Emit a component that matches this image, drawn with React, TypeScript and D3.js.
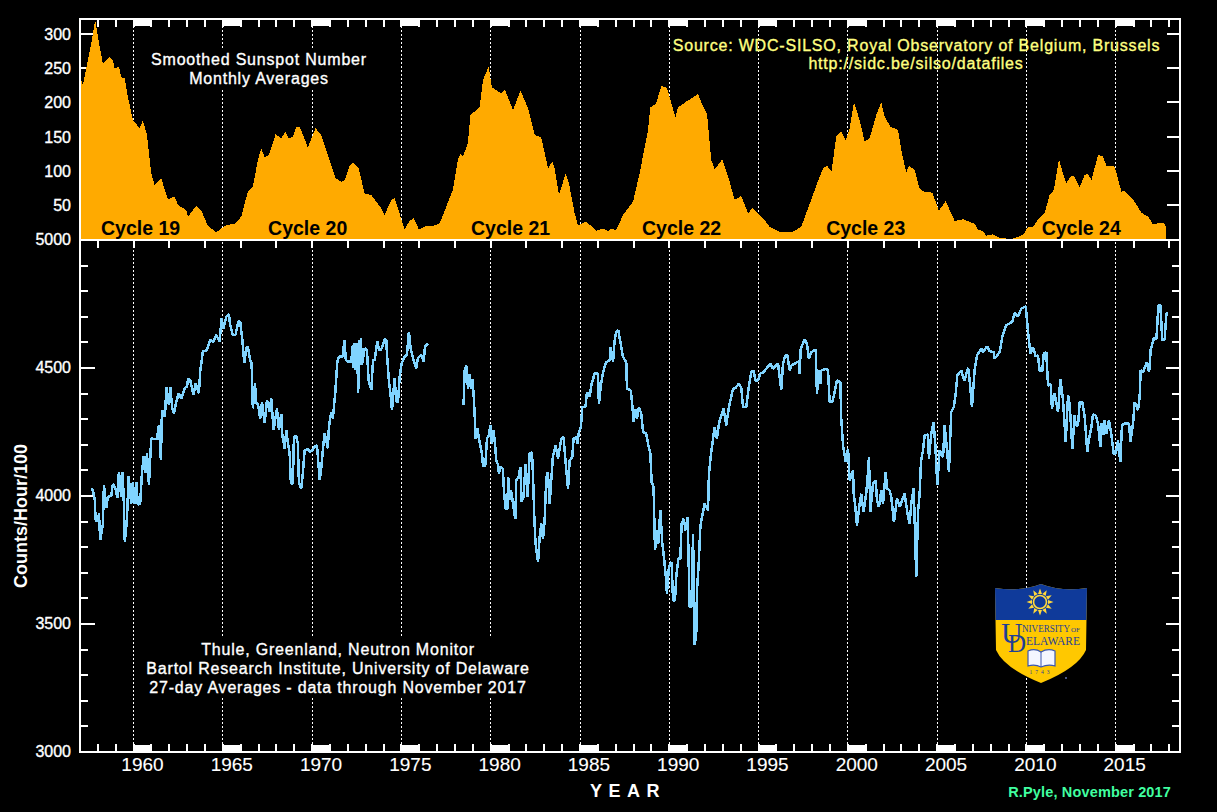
import React from "react";
import * as d3 from "d3";

const sunYears = [1957,1957.16,1957.35,1957.63,1957.85,1958.1,1958.28,1958.66,1958.84,1958.94,1959.18,1959.31,1959.5,1959.68,1959.96,1960.34,1960.52,1960.75,1960.99,1961.18,1961.55,1961.92,1962.3,1962.48,1962.95,1963.04,1963.51,1963.79,1964.16,1964.63,1965.19,1965.66,1966.03,1966.4,1966.68,1966.96,1967.15,1967.34,1967.58,1967.95,1968.27,1968.51,1968.7,1968.92,1969.11,1969.3,1969.76,1970.19,1970.51,1970.98,1971.31,1971.63,1971.82,1972.1,1972.29,1972.6,1972.94,1973.31,1973.87,1974.06,1974.43,1974.62,1975.18,1975.46,1975.68,1975.98,1976.39,1976.77,1977.14,1977.51,1977.88,1978.16,1978.3,1978.44,1978.72,1978.86,1979.38,1979.57,1979.88,1980.07,1980.59,1980.78,1981.25,1981.67,1982.09,1982.46,1982.83,1983.21,1983.45,1983.58,1983.82,1984.2,1984.38,1984.7,1984.89,1985.35,1985.91,1986.29,1986.57,1986.75,1987.03,1987.41,1987.97,1988.34,1988.81,1988.94,1989.27,1989.55,1989.87,1990.34,1990.49,1990.95,1991.61,1991.89,1992.11,1992.35,1992.54,1992.97,1993.38,1993.66,1994.03,1994.41,1994.65,1995.34,1995.62,1996.18,1996.93,1997.39,1997.77,1998.42,1998.61,1998.83,1999.08,1999.35,1999.63,1999.88,2000.1,2000.34,2000.66,2000.94,2001.22,2001.59,2001.87,2002.06,2002.38,2002.81,2002.99,2003.27,2003.42,2003.74,2004.02,2004.3,2004.73,2005.1,2005.48,2005.98,2006.45,2007.1,2007.29,2007.57,2007.75,2008.13,2008.5,2009.15,2009.81,2010.09,2010.37,2010.74,2011.02,2011.3,2011.54,2011.82,2012.05,2012.23,2012.52,2012.7,2012.98,2013.26,2013.45,2013.64,2014.01,2014.29,2014.48,2014.94,2015.32,2015.5,2016.06,2016.44,2016.81,2017.09,2017.37,2017.65,2017.84];
const sunValues = [238.5,225.4,249.8,286.3,320.5,281.5,257,265.9,262,249.8,252.2,236.6,235.1,208.3,174.1,162,173.2,152.2,96.1,79,88.8,58,62,49.8,42.4,32.7,48.3,41.5,19.5,9.8,20.5,22,32.7,69.3,76.6,115.6,132.7,119.5,122.9,153.2,147.3,157,147.3,149.8,163.4,164.4,134.1,162,152.2,115.6,88.8,83.9,86.3,106.8,111.7,103.4,66.8,64.4,44.9,35.1,57.1,59.5,14.1,26.8,30.2,14.1,19,19,22.9,47.3,71.7,115.6,125.4,120.5,140,181.5,192.7,232.7,252.2,222,213.2,219,188.8,217.1,191.2,152.2,148.8,103.4,113.2,103.4,64.4,96.1,81.5,37.6,19.5,25.4,12.2,15.6,11.7,15.1,13.2,35.1,54.6,96.1,159.5,192.7,198.5,223.9,221.5,178,192.7,201,212.2,193.7,183.9,115.6,102,116.6,83.9,57.1,62.9,37.6,44.9,27.8,18,10.7,10.7,18,44.9,91.2,103.4,107.3,98.5,149.8,157,144.9,162,200,174.1,142.4,147.3,181.5,200,179,164.4,159.5,130.2,97.6,107.3,101,73.2,69.3,67.8,41.5,55.6,26.3,28.8,22,13.2,11.7,4.9,6.8,1.5,0,5.9,18,18,31.7,37.6,64.4,71.7,116.6,96.1,81.5,92.7,91.2,75.6,93.7,95.1,86.3,122.9,120.5,107.3,105.9,69.3,70.7,54.6,38.5,32.7,21.5,22.9,23.9,18];

const thuleYearsEarly = [1957.63,1957.69,1957.76,1957.83,1957.87,1958,1958.06,1958.13,1958.28,1958.34,1958.47,1958.56,1958.75,1958.84,1958.99,1959.09,1959.18,1959.31,1959.37,1959.44,1959.51,1959.63,1959.72,1959.87,1959.96,1960.06,1960.15,1960.24,1960.37,1960.47,1960.56,1960.67,1960.75,1960.86,1960.99,1961.12,1961.31,1961.42,1961.53,1961.59,1961.74,1961.79,1961.83,1961.98,1962.05,1962.17,1962.26,1962.35,1962.52,1962.67,1962.86,1962.99,1963.06,1963.17,1963.36,1963.47,1963.66,1963.73,1963.88,1964.11,1964.29,1964.48,1964.63,1964.82,1964.93,1965.04,1965.19,1965.34,1965.41,1965.56,1965.71,1965.86,1965.97,1966.09,1966.2,1966.31,1966.4,1966.53,1966.61,1966.68,1966.8,1966.87,1966.96,1967.09,1967.19,1967.34,1967.47,1967.62,1967.71,1967.84,1968.03,1968.14,1968.27,1968.33,1968.46,1968.55,1968.63,1968.74,1968.81,1968.92,1968.98,1969.11,1969.2,1969.26,1969.39,1969.48,1969.58,1969.76,1969.9,1969.99,1970.14,1970.27,1970.32,1970.42,1970.51,1970.6,1970.7,1970.88,1970.94,1971.07,1971.16,1971.3,1971.41,1971.5,1971.72,1971.8,1971.89,1972,1972.19,1972.28,1972.32,1972.38,1972.43,1972.49,1972.55,1972.58,1972.62,1972.68,1972.73,1972.79,1972.94,1973.07,1973.16,1973.31,1973.41,1973.5,1973.65,1973.74,1973.87,1974.06,1974.15,1974.2,1974.3,1974.39,1974.47,1974.62,1974.71,1974.81,1974.9,1975.01,1975.18,1975.31,1975.42,1975.51,1975.65,1975.83,1975.92,1976.11,1976.24,1976.32,1976.49];
const thuleValuesEarly = [4023,4027,4010,3984,3906,3900,3932,3828,3887,4043,3952,3997,4000,4047,4030,3991,4095,3997,4095,4010,3822,3909,4076,3971,4056,3971,4056,3965,3971,4089,4154,4089,4167,4043,4225,4223,4223,4277,4141,4336,4310,4349,4424,4355,4427,4342,4323,4355,4401,4381,4421,4427,4460,4453,4395,4440,4401,4486,4564,4570,4609,4603,4629,4603,4694,4655,4700,4711,4668,4629,4629,4681,4681,4609,4521,4577,4583,4531,4518,4342,4440,4362,4362,4303,4368,4284,4375,4329,4381,4258,4342,4258,4320,4238,4186,4258,4212,4167,4049,4049,4232,4234,4206,4049,4030,4089,4180,4182,4173,4177,4193,4199,4154,4062,4108,4180,4245,4186,4271,4329,4303,4407,4525,4544,4544,4609,4531,4525,4525,4590,4499,4596,4492,4596,4492,4401,4609,4512,4616,4512,4577,4570,4453,4414,4531,4531,4603,4570,4573,4612,4609,4544,4450,4395,4336,4460,4368,4368,4466,4518,4544,4551,4642,4577,4538,4499,4538,4551,4525,4583,4596];

const thuleYearsLate = [1978.48,1978.54,1978.63,1978.73,1978.82,1978.89,1978.97,1979.04,1979.1,1979.15,1979.25,1979.34,1979.42,1979.51,1979.57,1979.7,1979.79,1979.9,1979.98,1980.07,1980.16,1980.24,1980.31,1980.42,1980.46,1980.55,1980.68,1980.74,1980.83,1980.93,1980.98,1981.06,1981.13,1981.21,1981.3,1981.38,1981.43,1981.56,1981.66,1981.73,1981.84,1981.95,1982.07,1982.18,1982.31,1982.37,1982.44,1982.51,1982.65,1982.74,1982.83,1982.93,1983.02,1983.11,1983.2,1983.3,1983.39,1983.48,1983.63,1983.77,1983.95,1984.08,1984.19,1984.33,1984.42,1984.57,1984.64,1984.79,1984.85,1984.94,1985.05,1985.13,1985.31,1985.39,1985.54,1985.63,1985.82,1986.01,1986.06,1986.16,1986.29,1986.47,1986.66,1986.72,1986.85,1986.94,1987.03,1987.14,1987.26,1987.41,1987.59,1987.63,1987.84,1987.93,1988,1988.12,1988.19,1988.3,1988.43,1988.53,1988.71,1988.81,1988.94,1989.01,1989.12,1989.2,1989.31,1989.38,1989.5,1989.61,1989.68,1989.8,1989.87,1989.98,1990.13,1990.21,1990.32,1990.39,1990.51,1990.62,1990.69,1990.8,1990.92,1991.03,1991.14,1991.25,1991.33,1991.42,1991.51,1991.55,1991.64,1991.74,1991.85,1991.98,1992.17,1992.22,1992.35,1992.45,1992.54,1992.67,1992.78,1992.91,1993.04,1993.19,1993.34,1993.47,1993.57,1993.72,1993.9,1994.03,1994.13,1994.31,1994.44,1994.59,1994.72,1994.82,1994.97,1995.1,1995.28,1995.43,1995.66,1995.81,1996.09,1996.18,1996.27,1996.37,1996.5,1996.61,1996.74,1996.83,1997.28,1997.3,1997.36,1997.58,1997.71,1997.82,1997.95,1998.2,1998.27,1998.38,1998.46,1998.51,1998.79,1998.89,1998.98,1999.13,1999.26,1999.39,1999.58,1999.63,1999.73,1999.88,2000.01,2000.1,2000.29,2000.32,2000.42,2000.51,2000.66,2000.75,2000.88,2001.03,2001.13,2001.18,2001.26,2001.41,2001.56,2001.63,2001.74,2001.87,2001.97,2002.12,2002.19,2002.34,2002.43,2002.58,2002.75,2002.9,2003.18,2003.37,2003.46,2003.55,2003.69,2003.83,2003.93,2004.02,2004.1,2004.21,2004.3,2004.49,2004.54,2004.67,2004.8,2004.9,2005.01,2005.14,2005.33,2005.42,2005.51,2005.66,2005.79,2005.93,2006.04,2006.13,2006.35,2006.45,2006.54,2006.73,2006.82,2006.95,2007.1,2007.23,2007.47,2007.57,2007.79,2007.94,2008.17,2008.22,2008.5,2008.65,2008.87,2009.21,2009.34,2009.53,2009.71,2009.96,2010.09,2010.22,2010.37,2010.52,2010.65,2010.74,2010.89,2010.97,2011.11,2011.21,2011.36,2011.43,2011.58,2011.77,2011.9,2012.05,2012.2,2012.33,2012.42,2012.57,2012.7,2012.76,2012.89,2012.98,2013.13,2013.26,2013.41,2013.49,2013.64,2013.73,2013.88,2014.01,2014.14,2014.2,2014.33,2014.38,2014.48,2014.62,2014.76,2014.89,2015,2015.13,2015.26,2015.35,2015.5,2015.75,2015.82,2015.97,2016.06,2016.25,2016.34,2016.4,2016.53,2016.75,2016.87,2016.96,2017.13,2017.28,2017.39,2017.5,2017.61,2017.74,2017.84,2017.93];
const thuleValuesLate = [4356,4490,4510,4419,4477,4419,4458,4399,4322,4224,4263,4224,4198,4165,4116,4120,4224,4237,4276,4204,4256,4204,4139,4120,4087,4113,4107,4022,3951,3948,4074,3983,4022,3990,3944,3909,4061,4074,4113,3977,3996,4126,3996,4165,4172,4077,3918,3814,3742,3840,3892,3833,3905,4068,4094,3970,4061,4152,4198,4146,4224,4230,4133,4029,4139,4152,4224,4230,4204,4250,4270,4348,4348,4406,4387,4432,4478,4478,4358,4426,4484,4523,4530,4582,4523,4608,4641,4647,4602,4543,4523,4419,4413,4354,4289,4341,4302,4348,4322,4250,4243,4204,4165,4055,4035,3788,3866,3814,3944,3814,3775,3690,3619,3723,3742,3592,3592,3684,3755,3755,3892,3911,3866,3918,3566,3566,3853,3417,3462,3632,3723,3880,3925,3970,3944,4087,4172,4224,4270,4224,4283,4315,4341,4276,4348,4387,4419,4423,4439,4423,4348,4348,4419,4484,4491,4452,4452,4478,4484,4497,4517,4497,4517,4465,4415,4517,4550,4550,4491,4510,4527,4478,4575,4611,4595,4536,4562,4572,4400,4491,4439,4491,4497,4491,4367,4367,4406,4452,4445,4302,4198,4133,4185,4061,4100,4016,3957,3885,3970,4009,3938,4012,4094,4152,3938,4048,4061,3983,3957,4022,3970,4094,4029,4022,3996,3898,3990,3957,4009,3918,3892,3970,4029,3684,3938,4009,4139,4178,4237,4240,4146,4243,4289,4198,4042,4178,4152,4276,4211,4094,4328,4348,4400,4471,4491,4465,4452,4501,4452,4348,4491,4549,4575,4562,4585,4566,4562,4536,4562,4621,4667,4680,4715,4702,4732,4741,4641,4556,4582,4546,4549,4488,4488,4556,4562,4432,4436,4341,4400,4328,4458,4374,4211,4393,4361,4185,4315,4276,4276,4367,4367,4311,4172,4217,4270,4319,4315,4283,4191,4283,4237,4296,4243,4296,4237,4165,4165,4217,4133,4276,4283,4283,4211,4283,4367,4335,4387,4491,4484,4523,4484,4572,4615,4615,4745,4745,4608,4611,4712,4715];

const decadeTicks = [1960,1965,1970,1975,1980,1985,1990,1995,2000,2005,2010,2015];
const sunTicks = [50,100,150,200,250,300];
const countTicks = [3000,3500,4000,4500,5000];
const cycleLabels = ["Cycle 19","Cycle 20","Cycle 21","Cycle 22","Cycle 23","Cycle 24"];
const cycleCentres = [1960.39,1969.75,1981.11,1990.69,2001.0,2013.07];

const W = 1217, H = 812;
const ORANGE = "#FFAA00", BLUE = "#80D4FF", YELLOW = "#FFFF80", GREEN = "#40FFA0";
const font = "'Liberation Sans', Arial, sans-serif";
const serif = "'Liberation Serif', serif";
const UD = "#1F3F96";

const x = d3.scaleLinear().domain([1957, 2018.6]).range([80, 1180]);
const ySun = d3.scaleLinear().domain([0, 300]).range([239, 34]);
const yCount = d3.scaleLinear().domain([3000, 5000]).range([752, 240]);

const areaGen = d3.area<number>().x((_, i) => x(sunYears[i])).y0(ySun(0)).y1(d => ySun(d));
const lineEarly = d3.line<number>().x((_, i) => x(thuleYearsEarly[i])).y(d => yCount(d));
const lineLate = d3.line<number>().x((_, i) => x(thuleYearsLate[i])).y(d => yCount(d));

const allYears = d3.range(1958, 2019);
const oddTickYears = d3.range(1958, 2019, 2);
const minorCounts = d3.range(3100, 5000, 100).filter(v => v % 500 !== 0);
const majorCounts = [3500, 4000, 4500];

function Label(p: any) {
  const { stroke = 0.35, fill = "#fff", children, ...rest } = p;
  return <text fontFamily={font} fill={fill} stroke={fill} strokeWidth={stroke} {...rest}>{children}</text>;
}

function Caption(p: any) {
  return <Label fontSize={16} letterSpacing={0.8} textAnchor="middle" {...p} />;
}

function Logo() {
  const shield = "M995 588 Q1020 592 1041 584 Q1062 592 1087 588 L1086 650 Q1078 668 1041 683 Q1004 668 996 650 Z";
  const rays = d3.range(0, 360, 30);
  return (
    <g>
      <clipPath id="shieldClip"><path d={shield} /></clipPath>
      <path d={shield} fill="#FFC800" />
      <rect x={990} y={580} width={100} height={40} fill="#0F3A9A" clipPath="url(#shieldClip)" />
      {rays.map(a => {
        const r = (a * Math.PI) / 180;
        const c = Math.cos(r), s = Math.sin(r);
        return <path key={a} d={`M${1040 + 8 * c - 2 * s} ${602 + 8 * s + 2 * c} L${1040 + 13.5 * c} ${602 + 13.5 * s} L${1040 + 8 * c + 2 * s} ${602 + 8 * s - 2 * c} Z`} fill="#FFD83C" />;
      })}
      <circle cx={1040} cy={602} r={6.5} fill="#0F3A9A" stroke="#FFD83C" strokeWidth={1.6} />
      <text x={1001} y={643} fontFamily={serif} fontSize={30} fill={UD}>U</text>
      <text x={1008} y={652} fontFamily={serif} fontSize={25} fill={UD}>D</text>
      <text x={1022} y={632} fontFamily={serif} fontSize={11} textLength={48} lengthAdjust="spacingAndGlyphs" fill={UD}>NIVERSITY</text>
      <text x={1071} y={632} fontFamily={serif} fontSize={7} textLength={9} lengthAdjust="spacingAndGlyphs" fill={UD}>OF</text>
      <text x={1026} y={645} fontFamily={serif} fontSize={13} textLength={54} lengthAdjust="spacingAndGlyphs" fill={UD}>ELAWARE</text>
      <path d="M1028 651 Q1035 648 1041 652 Q1048 648 1055 651 L1055 666 Q1048 664 1041 667 Q1035 664 1028 666 Z" fill="#F4F6FF" stroke="#3A56B0" strokeWidth={1.2} />
      <line x1={1041} y1={652} x2={1041} y2={667} stroke="#3A56B0" strokeWidth={1} />
      <text x={1041} y={674} textAnchor="middle" fontFamily={serif} fontSize={5.5} letterSpacing={3} fill={UD}>1743</text>
      <circle cx={1066} cy={678} r={1} fill="#6070B0" />
    </g>
  );
}

export default function App() {
  const lineProps = { stroke: "#fff", shapeRendering: "crispEdges" as const };
  return (
    <svg width={W} height={H} viewBox={`0 0 ${W} ${H}`} style={{ position: "absolute", left: 0, top: 0, display: "block", background: "#000" }}>
      <rect width={W} height={H} fill="#000" />

      {decadeTicks.map(yr => (
        <line key={yr} x1={x(yr)} x2={x(yr)} y1={26} y2={745} stroke="#fff" strokeDasharray="2 2" strokeWidth={1} shapeRendering="crispEdges" />
      ))}

      {/* black plates behind the captions */}
      <rect x={145} y={50} width={232} height={38} fill="#000" />
      <rect x={140} y={637} width={395} height={60} fill="#000" />

      {sunTicks.map(v => (
        <g key={v} {...lineProps}>
          <line x1={80} x2={93} y1={ySun(v)} y2={ySun(v)} strokeWidth={2} />
          <line x1={1167} x2={1180} y1={ySun(v)} y2={ySun(v)} strokeWidth={2} />
        </g>
      ))}
      {minorCounts.map(v => (
        <g key={v} {...lineProps}>
          <line x1={80} x2={88} y1={yCount(v)} y2={yCount(v)} strokeWidth={2} />
          <line x1={1172} x2={1180} y1={yCount(v)} y2={yCount(v)} strokeWidth={2} />
        </g>
      ))}
      {majorCounts.map(v => (
        <g key={v} {...lineProps}>
          <line x1={80} x2={95} y1={yCount(v)} y2={yCount(v)} strokeWidth={2} />
          <line x1={1166} x2={1180} y1={yCount(v)} y2={yCount(v)} strokeWidth={2} />
        </g>
      ))}

      <path d={areaGen(sunValues) ?? ""} fill={ORANGE} shapeRendering="crispEdges" />
      <path d={lineEarly(thuleValuesEarly) ?? ""} fill="none" stroke={BLUE} strokeWidth={2.5} strokeLinejoin="bevel" shapeRendering="crispEdges" />
      <path d={lineLate(thuleValuesLate) ?? ""} fill="none" stroke={BLUE} strokeWidth={2.5} strokeLinejoin="bevel" shapeRendering="crispEdges" />

      {allYears.map(yr => (
        <g key={yr} {...lineProps}>
          <line x1={x(yr)} x2={x(yr)} y1={19} y2={27} strokeWidth={2} />
          <line x1={x(yr)} x2={x(yr)} y1={744} y2={752} strokeWidth={2} />
        </g>
      ))}
      {oddTickYears.map(yr => (
        <line key={yr} x1={x(yr)} x2={x(yr)} y1={240} y2={248} strokeWidth={2} {...lineProps} />
      ))}
      {decadeTicks.map(yr => (
        <g key={yr} fill="#fff" shapeRendering="crispEdges">
          <rect x={x(yr)} y={19} width={x(yr + 1) - x(yr)} height={7} />
          <rect x={x(yr)} y={745} width={x(yr + 1) - x(yr)} height={7} />
        </g>
      ))}

      <rect x={80} y={19} width={1100} height={733} fill="none" stroke="#fff" strokeWidth={2} shapeRendering="crispEdges" />
      <line x1={80} x2={1180} y1={240} y2={240} stroke="#fff" strokeWidth={2} shapeRendering="crispEdges" />

      {sunTicks.map(v => (
        <Label key={v} x={71} y={ySun(v) + 6} textAnchor="end" fontSize={16}>{v}</Label>
      ))}
      {countTicks.map(v => (
        <Label key={v} x={71} y={yCount(v) + 5} textAnchor="end" fontSize={16}>{v}</Label>
      ))}
      {decadeTicks.map(yr => (
        <Label key={yr} x={x(yr + 0.5)} y={771} textAnchor="middle" fontSize={19} stroke={0.1}>{yr}</Label>
      ))}

      {cycleLabels.map((c, i) => (
        <text key={c} x={x(cycleCentres[i])} y={235} textAnchor="middle" fontFamily={font} fontWeight="bold" fontSize={19.5} fill="#000">{c}</text>
      ))}

      <Caption x={259} y={65}>Smoothed Sunspot Number</Caption>
      <Caption x={259} y={84}>Monthly Averages</Caption>
      <Caption x={916.5} y={51} fill={YELLOW}>Source: WDC-SILSO, Royal Observatory of Belgium, Brussels</Caption>
      <Caption x={916} y={69} fill={YELLOW}>http://sidc.be/silso/datafiles</Caption>
      <Caption x={338} y={655}>Thule, Greenland, Neutron Monitor</Caption>
      <Caption x={338} y={674}>Bartol Research Institute, University of Delaware</Caption>
      <Caption x={338} y={693}>27-day Averages - data through November 2017</Caption>

      <text transform="translate(27,516) rotate(-90)" textAnchor="middle" fontFamily={font} fontWeight="bold" fontSize={18} fill="#fff">Counts/Hour/100</text>
      <text x={628} y={797} textAnchor="middle" fontFamily={font} fontWeight="bold" fontSize={18} letterSpacing={6.5} fill="#fff">YEAR</text>
      <text x={1171} y={797} textAnchor="end" fontFamily={font} fontWeight="bold" fontSize={14.5} letterSpacing={0.15} fill={GREEN}>R.Pyle, November 2017</text>

      <Logo />
    </svg>
  );
}
